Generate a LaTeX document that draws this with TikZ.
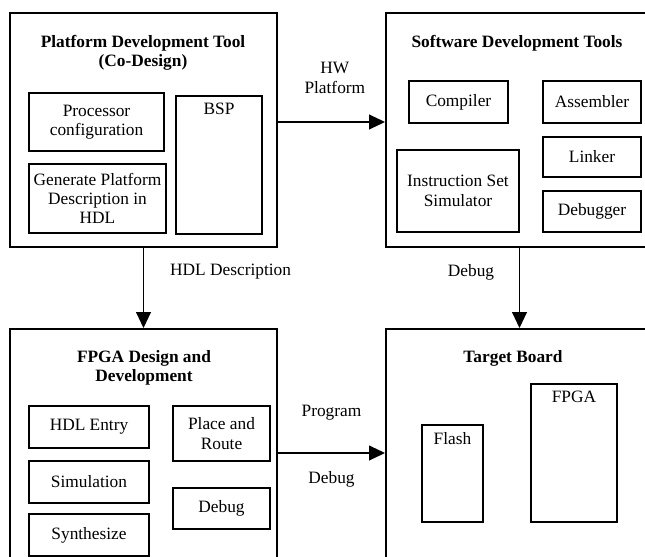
\documentclass[tikz,border=0pt]{standalone}
\usepackage{fontspec}
\setmainfont{Liberation Serif}
\usetikzlibrary{arrows.meta,positioning}
\newlength\px
\setlength\px{0.75pt}

\begin{document}
\begin{tikzpicture}[x=\px,y=-\px,
    every node/.style={font=\fontsize{13}{14.5}\selectfont},
    outer/.style={draw,line width=1.4pt,minimum width=267\px,minimum height=234\px},
    sub/.style={draw,line width=1.8pt,align=center,inner sep=1pt},
    toplbl/.style={anchor=north,yshift=-3pt},
    title/.style={align=center,font=\fontsize{13}{14.5}\selectfont\bfseries},
    arr/.style={-{Triangle[length=12pt,width=11pt]},line width=1.4pt}]
    \useasboundingbox (0,0) rectangle (645,556);
    \clip (0,0) rectangle (645,556);

    %%% Platform development
    \node[outer] (pdt) at (143.5,130) {};
    \node[title] (pdttitle) at (143,52.5) {Platform Development Tool\\(Co-Design)};
    \node[sub,minimum width=135\px,minimum height=58\px] (proc) at (96.5,122) {Processor\\configuration};
    \node[sub,minimum width=137\px,minimum height=69\px] (gen) at (97.5,198.5) {Generate Platform\\Description in\\HDL};
    \node[sub,minimum width=86\px,minimum height=138\px,label={[toplbl]north:BSP}] (bsp) at (219,165) {};

    %%% Software development
    \node[outer] (sdt) at (519.5,130) {};
    \node[title] (sdttitle) at (517,43) {Software Development Tools};
    \node[sub,minimum width=99\px,minimum height=42\px] (comp) at (458.5,102) {Compiler};
    \node[sub,minimum width=98\px,minimum height=42\px] (asm) at (592,102) {Assembler};
    \node[sub,minimum width=98\px,minimum height=40\px] (link) at (592,157) {Linker};
    \node[sub,minimum width=98\px,minimum height=41\px] (dbgr) at (592,211.5) {Debugger};
    \node[sub,minimum width=122\px,minimum height=82\px] (iss) at (458,191) {Instruction Set\\Simulator};

    %%% FPGA design
    \node[outer] (fpga) at (143.5,446) {};
    \node[title] (fpgatitle) at (144,367.5) {FPGA Design and\\Development};
    \node[sub,minimum width=120\px,minimum height=42\px] (hdl) at (89,427) {HDL Entry};
    \node[sub,minimum width=120\px,minimum height=42\px] (sim) at (89,482) {Simulation};
    \node[sub,minimum width=120\px,minimum height=42\px] (syn) at (89,535) {Synthesize};
    \node[sub,minimum width=97\px,minimum height=55\px] (par) at (221.5,433.5) {Place and\\Route};
    \node[sub,minimum width=97\px,minimum height=41\px] (dbg) at (221.5,508.5) {Debug};

    %%% Target board
    \node[outer] (tb) at (519.5,446) {};
    \node[title] (tbtitle) at (513,358) {Target Board};
    \node[sub,minimum width=61\px,minimum height=97\px,label={[toplbl]north:Flash}] (flash) at (452.5,473.5) {};
    \node[sub,minimum width=86\px,minimum height=138\px,label={[toplbl]north:FPGA}] (chip) at (574,453) {};

    \draw[arr] ([yshift=6pt]pdt.east) -- node[midway,align=center,xshift=2.5pt,yshift=33pt] {HW\\Platform} ([yshift=6pt]sdt.west);
    \draw[arr] (pdt.south) -- node[midway,right=16pt,yshift=12pt] {HDL Description} (fpga.north);
    \draw[arr] (sdt.south) -- node[midway,left=15pt,yshift=12pt] {Debug} (tb.north);
    \draw[arr] ([yshift=-5.25pt]fpga.east) -- node[midway,yshift=30pt] {Program} node[midway,yshift=-20pt] {Debug} ([yshift=-5.25pt]tb.west);
\end{tikzpicture}
\end{document}
